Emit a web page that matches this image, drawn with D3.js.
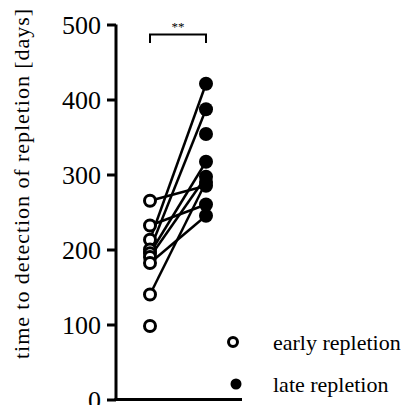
<!DOCTYPE html>
<html>
<head>
<meta charset="utf-8">
<script src="https://cdn.jsdelivr.net/npm/d3@7"></script>
<style>
  body { margin: 0; background: #fff; }
</style>
</head>
<body>
<svg id="chart" width="408" height="405"></svg>
<script>
// paired values, days (null = no partner)
var groups = ["early repletion", "late repletion"];
var earlyDays = [265, 232, 213, 200, 195, 190, 182, 140, 98, null];
var lateDays  = [285, 260, 421, 387, 317, 297, 245, 290, null, 354];
var yTicks = [0, 100, 200, 300, 400, 500];
var yLabel = "time to detection of repletion [days]";
var sigLabel = "**";

var serif = "Liberation Serif, Times New Roman, Tinos, DejaVu Serif, Noto Serif, serif";

var svg = d3.select("#chart").style("font-family", serif);

var y = d3.scaleLinear().domain([0, 500]).range([399.5, 24.5]);
var x = d3.scalePoint().domain(groups).range([150, 206]);

// y axis
var yAxis = d3.axisLeft(y).tickValues(yTicks).tickSize(9).tickPadding(6);
var gy = svg.append("g").attr("transform", "translate(116,0)").call(yAxis)
    .attr("font-family", null).attr("font-size", null);
gy.select(".domain").attr("stroke-width", 3).attr("d", "M0," + y(500) + "V" + (y(0) + 1.5));
gy.selectAll(".tick line").attr("stroke-width", 3);
gy.selectAll(".tick text").style("font-size", "26px").attr("dy", "0.34em");

// x axis baseline
svg.append("line")
    .attr("x1", 114.5).attr("x2", 242)
    .attr("y1", y(0)).attr("y2", y(0))
    .attr("stroke", "#000").attr("stroke-width", 3);

// y label
svg.append("text")
    .attr("transform", "translate(21," + 184 + ") rotate(-90)")
    .attr("text-anchor", "middle")
    .attr("dy", "0.35em")
    .attr("textLength", 350)
    .attr("lengthAdjust", "spacing")
    .style("font-size", "22px")
    .text(yLabel);

// pairing lines
var pairs = earlyDays.map(function(e, i){ return [e, lateDays[i]]; })
    .filter(function(p){ return p[0] !== null && p[1] !== null; });

svg.append("g").selectAll("line")
    .data(pairs)
    .enter().append("line")
    .attr("x1", x(groups[0])).attr("y1", function(d){ return y(d[0]); })
    .attr("x2", x(groups[1])).attr("y2", function(d){ return y(d[1]); })
    .attr("stroke", "#000").attr("stroke-width", 2.5);

// early points (open)
svg.append("g").selectAll("circle")
    .data(earlyDays.filter(function(d){ return d !== null; }))
    .enter().append("circle")
    .attr("cx", x(groups[0])).attr("cy", function(d){ return y(d); })
    .attr("r", 5.5)
    .attr("fill", "#fff").attr("stroke", "#000").attr("stroke-width", 3);

// late points (filled)
svg.append("g").selectAll("circle")
    .data(lateDays.filter(function(d){ return d !== null; }))
    .enter().append("circle")
    .attr("cx", x(groups[1])).attr("cy", function(d){ return y(d); })
    .attr("r", 7)
    .attr("fill", "#000");

// significance bracket
var bTop = 34.5, bBot = 43;
svg.append("path")
    .attr("d", "M" + x(groups[0]) + "," + bBot + "V" + bTop + "H" + x(groups[1]) + "V" + bBot)
    .attr("fill", "none").attr("stroke", "#000").attr("stroke-width", 2);
svg.append("text")
    .attr("x", (x(groups[0]) + x(groups[1])) / 2).attr("y", 31)
    .attr("text-anchor", "middle")
    .style("font-size", "13px")
    .text(sigLabel);

// legend
var legend = svg.append("g");
legend.append("circle").attr("cx", 233).attr("cy", 342).attr("r", 4.5)
    .attr("fill", "#fff").attr("stroke", "#000").attr("stroke-width", 3);
legend.append("circle").attr("cx", 236).attr("cy", 384).attr("r", 5.5)
    .attr("fill", "#000");
legend.append("text").attr("x", 273).attr("y", 342).attr("dy", "0.35em")
    .style("font-size", "22px").text(groups[0]);
legend.append("text").attr("x", 273).attr("y", 384).attr("dy", "0.35em")
    .style("font-size", "22px").text(groups[1]);
</script>
</body>
</html>
